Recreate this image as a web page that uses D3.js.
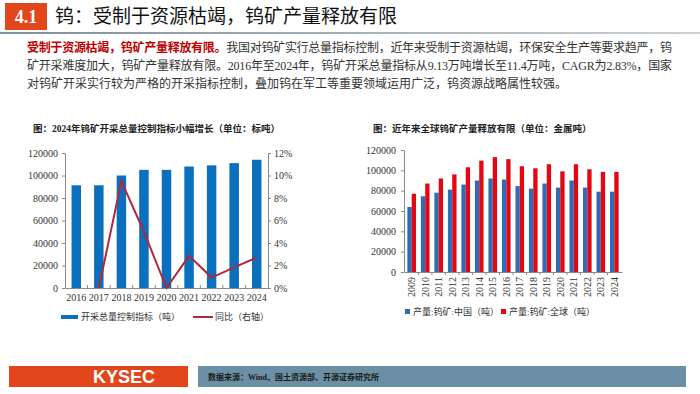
<!DOCTYPE html>
<html>
<head>
<meta charset="utf-8">
<script src="https://cdn.jsdelivr.net/npm/d3@7"></script>
<style>
  body { margin: 0; background: #fff; }
  svg { display: block; }
  .cjk { font-family: "Liberation Serif", "Noto Sans CJK SC", serif; }
</style>
</head>
<body>
<svg id="page" width="700" height="394"></svg>
<script>
// left chart: quota
var quotaYears = ["2016", "2017", "2018", "2019", "2020", "2021", "2022", "2023", "2024"];
var quotaValues = [91300, 91300, 100000, 105000, 105000, 108000, 109000, 111000, 114000];
var quotaYoy = [null, 0, 0.095, 0.05, 0, 0.0286, 0.0093, 0.0183, 0.027];
var quotaTicks = [0, 20000, 40000, 60000, 80000, 100000, 120000];
var yoyTicks = [0, 0.02, 0.04, 0.06, 0.08, 0.10, 0.12];

// right chart: output
var outputYears = ["2009", "2010", "2011", "2012", "2013", "2014", "2015", "2016",
                   "2017", "2018", "2019", "2020", "2021", "2022", "2023", "2024"];
var chinaOutput = [64000, 74500, 78000, 81000, 86000, 90000, 92000, 91000,
                   84500, 82000, 87000, 83000, 90000, 83000, 79000, 79000];
var globalOutput = [77000, 87000, 92000, 96000, 103000, 109500, 113000, 111000,
                    104000, 102000, 106000, 99000, 106000, 101000, 98500, 98500];
var outputTicks = [0, 20000, 40000, 60000, 80000, 100000, 120000];

var svg = d3.select("#page");
var FONT = "Liberation Serif, Noto Sans CJK SC, serif";

svg.append("rect").attr("width", 700).attr("height", 394).attr("fill", "#fff");

// ---- header ----
var grad = svg.append("defs").append("linearGradient").attr("id", "rule");
grad.append("stop").attr("offset", "0%").attr("stop-color", "#7f909c");
grad.append("stop").attr("offset", "100%").attr("stop-color", "#c9d1d6");

svg.append("rect").attr("x", 5).attr("y", 3).attr("width", 42).attr("height", 27).attr("fill", "#e2471b");
svg.append("text").attr("x", 26).attr("y", 23).attr("text-anchor", "middle")
    .attr("font-family", FONT).attr("font-weight", "bold").attr("font-size", 18).attr("fill", "#fff")
    .text("4.1");
svg.append("text").attr("x", 55).attr("y", 23)
    .attr("font-family", FONT).attr("font-size", 19).attr("fill", "#111")
    .text("钨：受制于资源枯竭，钨矿产量释放有限");
svg.append("rect").attr("x", 0).attr("y", 32).attr("width", 700).attr("height", 2).attr("fill", "url(#rule)");

// ---- paragraph ----
var p1 = svg.append("text").attr("x", 27).attr("y", 52)
    .attr("font-family", FONT).attr("font-size", 12).attr("fill", "#333")
    .attr("textLength", 645).attr("lengthAdjust", "spacing");
p1.append("tspan").attr("fill", "#c00000").attr("font-weight", "bold").text("受制于资源枯竭，钨矿产量释放有限。");
p1.append("tspan").text("我国对钨矿实行总量指标控制，近年来受制于资源枯竭，环保安全生产等要求趋严，钨");
svg.append("text").attr("x", 27).attr("y", 70)
    .attr("font-family", FONT).attr("font-size", 12).attr("fill", "#333")
    .attr("textLength", 645).attr("lengthAdjust", "spacing")
    .text("矿开采难度加大，钨矿产量释放有限。2016年至2024年，钨矿开采总量指标从9.13万吨增长至11.4万吨，CAGR为2.83%，国家");
svg.append("text").attr("x", 27).attr("y", 88)
    .attr("font-family", FONT).attr("font-size", 12).attr("fill", "#333")
    .text("对钨矿开采实行较为严格的开采指标控制，叠加钨在军工等重要领域运用广泛，钨资源战略属性较强。");

// ---- left chart ----
svg.append("text").attr("x", 33).attr("y", 132)
    .attr("font-family", FONT).attr("font-weight", "bold").attr("font-size", 9.5).attr("fill", "#222")
    .text("图：2024年钨矿开采总量控制指标小幅增长（单位：标吨）");

var xL = d3.scaleBand().domain(quotaYears).range([65, 268]).paddingInner(0.58).paddingOuter(0.29);
var yL = d3.scaleLinear().domain([0, 120000]).range([288, 153]);
var yR = d3.scaleLinear().domain([0, 0.12]).range([288, 153]);

var gL = svg.append("g");
gL.selectAll("rect.bar").data(quotaValues).enter().append("rect")
    .attr("class", "bar")
    .attr("x", function (d, i) { return xL(quotaYears[i]); })
    .attr("y", function (d) { return yL(d); })
    .attr("width", xL.bandwidth())
    .attr("height", function (d) { return yL(0) - yL(d); })
    .attr("fill", "#0a6fbd");

function styleAxis(g, size) {
    g.select(".domain").attr("stroke", "#8a8a8a");
    g.selectAll(".tick line").attr("stroke", "#8a8a8a");
    g.selectAll("text").attr("font-family", FONT).attr("font-size", size || 10).attr("fill", "#333");
}

gL.append("g").attr("transform", "translate(65,0)")
    .call(d3.axisLeft(yL).tickValues(quotaTicks).tickSize(3).tickPadding(4).tickSizeOuter(0).tickFormat(d3.format("d")))
    .call(styleAxis);
gL.append("g").attr("transform", "translate(268,0)")
    .call(d3.axisRight(yR).tickValues(yoyTicks).tickSize(3).tickPadding(3).tickSizeOuter(0)
        .tickFormat(function (d) { return Math.round(d * 100) + "%"; }))
    .call(styleAxis);
gL.append("g").attr("transform", "translate(0,288)")
    .call(d3.axisBottom(xL).tickSize(0).tickPadding(6).tickSizeOuter(0))
    .call(styleAxis);
// category separators
gL.selectAll("line.sep").data(quotaYears.slice(1)).enter().append("line")
    .attr("x1", function (d) { return xL(d) - xL.step() * xL.paddingInner() / 2; })
    .attr("x2", function (d) { return xL(d) - xL.step() * xL.paddingInner() / 2; })
    .attr("y1", 288).attr("y2", 285).attr("stroke", "#8a8a8a");

var yoyLine = d3.line()
    .defined(function (d) { return d != null; })
    .x(function (d, i) { return xL(quotaYears[i]) + xL.bandwidth() / 2; })
    .y(function (d) { return yR(d); });
gL.append("path").datum(quotaYoy)
    .attr("d", yoyLine).attr("fill", "none").attr("stroke", "#b0283a").attr("stroke-width", 2);

// legend
gL.append("rect").attr("x", 61).attr("y", 315).attr("width", 17).attr("height", 4).attr("fill", "#0a6fbd");
gL.append("text").attr("x", 81).attr("y", 320).attr("font-family", FONT).attr("font-size", 9).attr("fill", "#333")
    .text("开采总量控制指标（吨）");
gL.append("line").attr("x1", 193).attr("x2", 213).attr("y1", 317).attr("y2", 317)
    .attr("stroke", "#b0283a").attr("stroke-width", 2);
gL.append("text").attr("x", 215).attr("y", 320).attr("font-family", FONT).attr("font-size", 9).attr("fill", "#333")
    .text("同比（右轴）");

// ---- right chart ----
svg.append("text").attr("x", 373).attr("y", 132)
    .attr("font-family", FONT).attr("font-weight", "bold").attr("font-size", 9.5).attr("fill", "#222")
    .text("图：近年来全球钨矿产量释放有限（单位：金属吨）");

var x0 = d3.scaleBand().domain(outputYears).range([404, 622]).paddingInner(0.36).paddingOuter(0.25);
var x1 = d3.scaleBand().domain(["china", "global"]).range([0, x0.bandwidth()]);
var y2 = d3.scaleLinear().domain([0, 120000]).range([272, 150]);
var colors = { china: "#2c6db5", global: "#e30613" };

var gR = svg.append("g");
var groups = gR.selectAll("g.year").data(outputYears).enter().append("g")
    .attr("class", "year")
    .attr("transform", function (d) { return "translate(" + x0(d) + ",0)"; });
groups.selectAll("rect").data(function (d, i) {
    return [{ key: "china", v: chinaOutput[i] }, { key: "global", v: globalOutput[i] }];
}).enter().append("rect")
    .attr("x", function (d) { return x1(d.key); })
    .attr("y", function (d) { return y2(d.v); })
    .attr("width", x1.bandwidth())
    .attr("height", function (d) { return y2(0) - y2(d.v); })
    .attr("fill", function (d) { return colors[d.key]; });

gR.append("g").attr("transform", "translate(404,0)")
    .call(d3.axisLeft(y2).tickValues(outputTicks).tickSize(3).tickPadding(5).tickSizeOuter(0).tickFormat(d3.format("d")))
    .call(styleAxis);
var xAx = gR.append("g").attr("transform", "translate(0,272)")
    .call(d3.axisBottom(x0).tickSize(0).tickSizeOuter(0))
    .call(styleAxis);
xAx.selectAll("text")
    .attr("transform", "rotate(-90)")
    .attr("x", -5).attr("y", 0).attr("dy", "0.35em")
    .style("text-anchor", "end");
gR.selectAll("line.sep").data(outputYears.slice(1)).enter().append("line")
    .attr("x1", function (d) { return x0(d) - x0.step() * x0.paddingInner() / 2; })
    .attr("x2", function (d) { return x0(d) - x0.step() * x0.paddingInner() / 2; })
    .attr("y1", 272).attr("y2", 275).attr("stroke", "#8a8a8a");

// legend
gR.append("rect").attr("x", 405).attr("y", 309).attr("width", 5).attr("height", 5).attr("fill", colors.china);
gR.append("text").attr("x", 413).attr("y", 315).attr("font-family", FONT).attr("font-size", 9).attr("fill", "#333")
    .text("产量:钨矿:中国（吨）");
gR.append("rect").attr("x", 501).attr("y", 309).attr("width", 5).attr("height", 5).attr("fill", colors.global);
gR.append("text").attr("x", 509).attr("y", 315).attr("font-family", FONT).attr("font-size", 9).attr("fill", "#333")
    .text("产量:钨矿:全球（吨）");

// ---- footer ----
svg.append("rect").attr("x", 9).attr("y", 366).attr("width", 179).attr("height", 21).attr("fill", "#e2471b");
svg.append("text").attr("x", 124).attr("y", 383).attr("text-anchor", "middle")
    .attr("font-family", "Liberation Sans, Arial, sans-serif").attr("font-weight", "bold")
    .attr("font-size", 18).attr("fill", "#fff").text("KYSEC");
svg.append("rect").attr("x", 198).attr("y", 366).attr("width", 488).attr("height", 21).attr("fill", "#6b8fa4");
svg.append("text").attr("x", 208).attr("y", 380)
    .attr("font-family", FONT).attr("font-weight", "bold").attr("font-size", 8).attr("fill", "#1a1a1a")
    .text("数据来源：Wind、国土资源部、开源证券研究所");
</script>
</body>
</html>
